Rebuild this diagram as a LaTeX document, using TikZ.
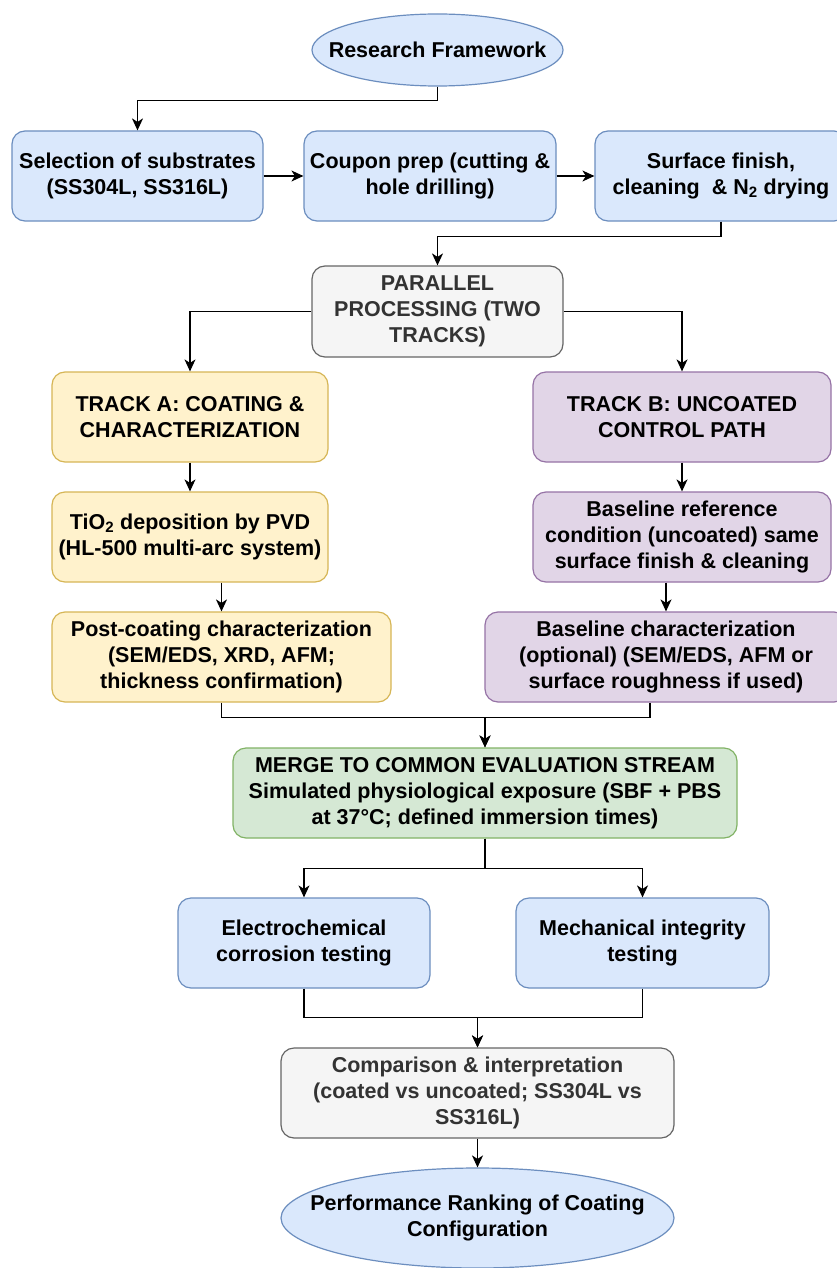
\documentclass[tikz,border=0pt]{standalone}
\usepackage{fontspec}
\setmainfont{Liberation Sans}
\usetikzlibrary{arrows.meta,shapes.geometric}
\definecolor{blfill}{HTML}{DAE8FC}\definecolor{bldraw}{HTML}{6C8EBF}
\definecolor{yefill}{HTML}{FFF2CC}\definecolor{yedraw}{HTML}{D6B656}
\definecolor{pufill}{HTML}{E1D5E7}\definecolor{pudraw}{HTML}{9673A6}
\definecolor{gyfill}{HTML}{F5F5F5}\definecolor{gydraw}{HTML}{666666}
\definecolor{gnfill}{HTML}{D5E8D4}\definecolor{gndraw}{HTML}{82B366}
\definecolor{gytext}{HTML}{333333}
\tikzset{
  box/.style={rectangle, rounded corners=13pt, line width=1.2pt, align=center, inner sep=0pt,
    minimum height=90pt, font=\fontsize{21.5}{26}\selectfont\bfseries},
  oval/.style={box, ellipse, fill=blfill, draw=bldraw, inner xsep=-45pt, inner ysep=-8pt},
  bluebox/.style={box, fill=blfill, draw=bldraw},
  yelbox/.style={box, fill=yefill, draw=yedraw},
  purbox/.style={box, fill=pufill, draw=pudraw},
  greybox/.style={box, fill=gyfill, draw=gydraw, text=gytext},
  greenbox/.style={box, fill=gnfill, draw=gndraw},
  conn/.style={line width=1.3pt, -{Stealth[length=12pt,width=11pt,inset=3.5pt]}}
}

\begin{document}
\begin{tikzpicture}[x=1pt,y=-1pt]
\clip (0,0) rectangle (837,1268);
\fill[white] (0,0) rectangle (837,1268);

\node[oval, minimum width=251pt, minimum height=72pt] (rf) at (437.5,50) {Research Framework};

\node[bluebox, minimum width=251pt] (sub) at (137.5,176) {Selection of substrates\\(SS304L, SS316L)};
\node[bluebox, minimum width=252pt] (coup) at (430,176) {Coupon prep (cutting \&\\hole drilling)};
\node[bluebox, minimum width=252pt] (surf) at (721,176) {Surface finish,\\cleaning\ \ \& N\textsubscript{2} drying};

\node[greybox, minimum width=251pt, minimum height=91pt] (par) at (437.5,311.5) {PARALLEL\\PROCESSING (TWO\\TRACKS)};

\node[yelbox, minimum width=276pt] (trka) at (190,417) {TRACK A: COATING \&\\CHARACTERIZATION};
\node[yelbox, minimum width=276pt] (tio) at (190,537) {TiO\textsubscript{2} deposition by PVD\\(HL-500 multi-arc system)};
\node[yelbox, minimum width=339pt] (post) at (221.5,657) {Post-coating characterization\\(SEM/EDS, XRD, AFM;\\thickness confirmation)};

\node[purbox, minimum width=298pt] (trkb) at (682,417) {TRACK B: UNCOATED\\CONTROL PATH};
\node[purbox, minimum width=298pt] (bref) at (682,537) {Baseline reference\\condition (uncoated) same\\surface finish \& cleaning};
\node[purbox, minimum width=362pt] (bchar) at (666,657) {Baseline characterization\\(optional) (SEM/EDS, AFM or\\surface roughness if used)};

\node[greenbox, minimum width=504pt] (merge) at (485,793) {MERGE TO COMMON EVALUATION STREAM\\Simulated physiological exposure (SBF + PBS\\at 37°C; defined immersion times)};

\node[bluebox, minimum width=252pt] (echem) at (304,943) {Electrochemical\\corrosion testing};
\node[bluebox, minimum width=253pt] (mech) at (642.5,943) {Mechanical integrity\\testing};

\node[greybox, minimum width=393pt] (comp) at (477.5,1093) {Comparison \& interpretation\\(coated vs uncoated; SS304L vs\\SS316L)};
\node[oval, minimum width=393pt, minimum height=100pt] (rank) at (477.5,1218) {Performance Ranking of Coating\\Configuration};

\draw[conn] (rf.south) -- ++(0,14) -| (sub.north);
\draw[conn] (sub) -- (coup);
\draw[conn] (coup) -- (surf);
\draw[conn] (surf.south) -- ++(0,15) -| (par.north);
\draw[conn] (par.west) -| (trka.north);
\draw[conn] (par.east) -| (trkb.north);
\draw[conn] (trka) -- (tio);
\draw[conn] (trkb) -- (bref);
\draw[conn] (tio.south -| post.north) -- (post.north);
\draw[conn] (bref.south -| bchar.north) -- (bchar.north);
\draw[conn] (post.south) -- ++(0,15) -| (merge.north);
\draw[conn] ([xshift=-16pt]bchar.south) -- ++(0,15) -| (merge.north);
\draw[conn] (merge.south) -- ++(0,30) -| (echem.north);
\draw[conn] (merge.south) -- ++(0,30) -| (mech.north);
\draw[conn] (echem.south) -- ++(0,29) -| (comp.north);
\draw[conn] (mech.south) -- ++(0,29) -| (comp.north);
\draw[conn] (comp) -- (rank);
\end{tikzpicture}
\end{document}
